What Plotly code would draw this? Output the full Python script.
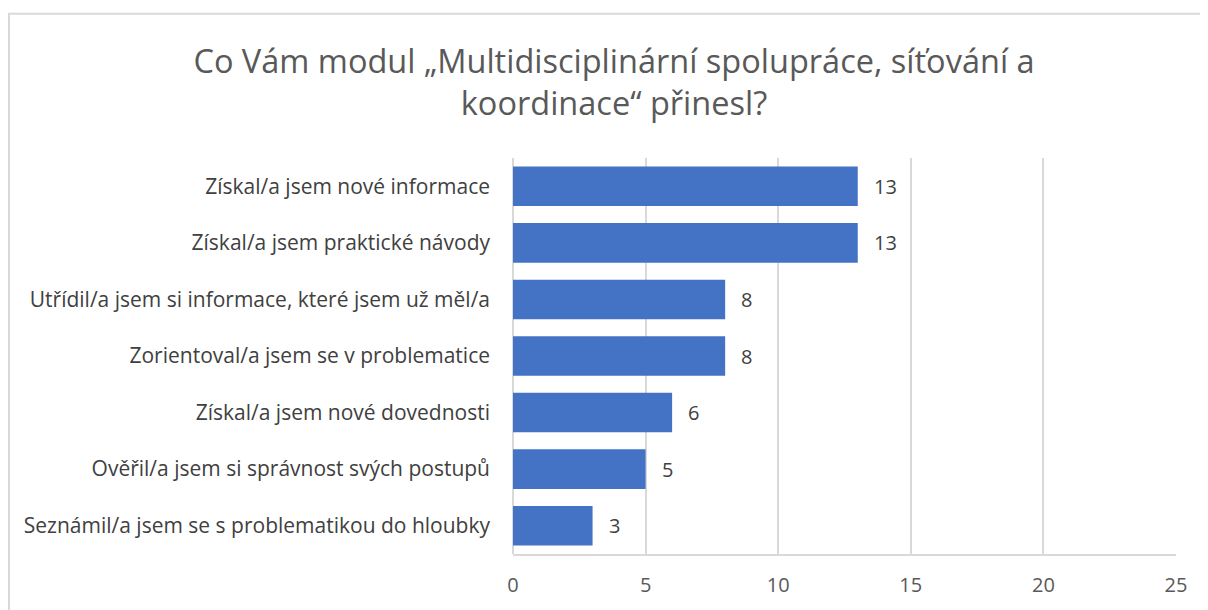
import plotly.graph_objects as go

categories = [
    "Získal/a jsem nové informace",
    "Získal/a jsem praktické návody",
    "Utřídil/a jsem si informace, které jsem už měl/a",
    "Zorientoval/a jsem se v problematice",
    "Získal/a jsem nové dovednosti",
    "Ověřil/a jsem si správnost svých postupů",
    "Seznámil/a jsem se s problematikou do hloubky",
]
values = [13, 13, 8, 8, 6, 5, 3]
x_ticks = [0, 5, 10, 15, 20, 25]
title_text = "Co Vám modul „Multidisciplinární spolupráce, síťování a<br>koordinace“ přinesl?"

FONT = "Open Sans"
BAR = "#4472C4"
GRID = "#d9d9d9"

W, H = 1200, 602
L, R, T, B = 505, 32, 150, 54

fig = go.Figure()
fig.add_trace(go.Bar(
    x=values, y=categories, orientation="h",
    marker=dict(color=BAR, line=dict(width=0)),
    width=0.7, showlegend=False, hoverinfo="skip",
))

for v, c in zip(values, categories):
    fig.add_annotation(x=v, y=c, text=str(v), showarrow=False,
                       xanchor="left", xshift=14,
                       font=dict(family=FONT, size=20, color="#404040"))

pw, ph = W - L - R, H - T - B
fig.add_shape(type="rect", xref="paper", yref="paper",
              x0=(1 - L) / pw, x1=1.2, y0=-0.5, y1=(H - B - 5) / ph,
              line=dict(color=GRID, width=2), layer="below")

fig.update_layout(
    width=W, height=H,
    margin=dict(l=L, r=R, t=T, b=B),
    paper_bgcolor="white", plot_bgcolor="white",
    title=dict(text=title_text, x=606 / W, xanchor="center",
               y=1 - 65 / H, yanchor="middle",
               font=dict(family=FONT, size=32.5, color="#595959")),
    bargap=0.3,
    xaxis=dict(range=[0, 25], tickvals=x_ticks, showgrid=True,
               gridcolor=GRID, gridwidth=1.5, zeroline=True,
               zerolinecolor=GRID, zerolinewidth=1.5,
               showline=True, linecolor=GRID, linewidth=1.5,
               ticks="", ticklabelstandoff=12,
               tickfont=dict(family=FONT, size=20, color="#595959"),
               fixedrange=True),
    yaxis=dict(categoryorder="array", categoryarray=categories[::-1],
               autorange=False, range=[-0.5, 6.5],
               showgrid=False, zeroline=False, showline=False,
               ticks="", ticklabelstandoff=22,
               tickfont=dict(family=FONT, size=21, color="#404040"),
               fixedrange=True),
)

fig.write_html("out.html")
